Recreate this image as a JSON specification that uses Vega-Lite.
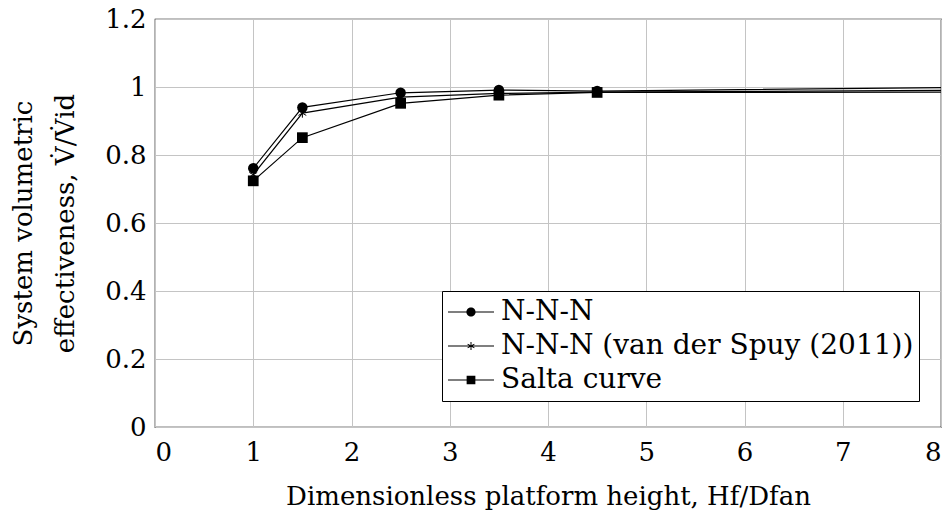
{
  "$schema": "https://vega.github.io/schema/vega-lite/v6.json",
  "width": 786,
  "height": 408,
  "autosize": {"type": "none"},
  "padding": {"left": 155, "top": 19, "right": 9, "bottom": 89},
  "background": "white",
  "config": {
    "font": "DejaVu Serif",
    "view": {"stroke": "black", "strokeWidth": 1.2},
    "axis": {
      "labelFont": "DejaVu Serif",
      "labelFontSize": 26,
      "labelColor": "black",
      "titleFont": "DejaVu Serif",
      "titleFontSize": 26,
      "titleFontWeight": "normal",
      "titleColor": "black",
      "domain": false,
      "ticks": false,
      "gridColor": "#c4c4c4",
      "gridWidth": 1,
      "gridOpacity": 1
    }
  },
  "data": {
    "values": [
      {"series": "N-N-N", "h": 1, "v": 0.761},
      {"series": "N-N-N", "h": 1.5, "v": 0.94},
      {"series": "N-N-N", "h": 2.5, "v": 0.983},
      {"series": "N-N-N", "h": 3.5, "v": 0.991},
      {"series": "N-N-N", "h": 4.5, "v": 0.988},
      {"series": "N-N-N", "h": 8, "v": 0.998},
      {"series": "N-N-N (van der Spuy (2011))", "h": 1, "v": 0.742},
      {"series": "N-N-N (van der Spuy (2011))", "h": 1.5, "v": 0.923},
      {"series": "N-N-N (van der Spuy (2011))", "h": 2.5, "v": 0.97},
      {"series": "N-N-N (van der Spuy (2011))", "h": 3.5, "v": 0.981},
      {"series": "N-N-N (van der Spuy (2011))", "h": 4.5, "v": 0.985},
      {"series": "N-N-N (van der Spuy (2011))", "h": 8, "v": 0.99},
      {"series": "Salta curve", "h": 1, "v": 0.724},
      {"series": "Salta curve", "h": 1.5, "v": 0.851},
      {"series": "Salta curve", "h": 2.5, "v": 0.952},
      {"series": "Salta curve", "h": 3.5, "v": 0.976},
      {"series": "Salta curve", "h": 4.5, "v": 0.984},
      {"series": "Salta curve", "h": 8, "v": 0.985}
    ]
  },
  "encoding": {
    "x": {
      "field": "h",
      "type": "quantitative",
      "scale": {"domain": [0, 8], "nice": false, "zero": false},
      "axis": {
        "values": [0, 1, 2, 3, 4, 5, 6, 7, 8],
        "format": "d",
        "labelPadding": 12,
        "title": "Dimensionless platform height, Hf/Dfan",
        "titlePadding": 18
      }
    },
    "y": {
      "field": "v",
      "type": "quantitative",
      "scale": {"domain": [0, 1.2], "nice": false},
      "axis": {
        "values": [0, 0.2, 0.4, 0.6, 0.8, 1, 1.2],
        "format": "~g",
        "labelPadding": 9,
        "title": ["System volumetric", "effectiveness, V̇/V̇id"],
        "titleLineHeight": 42,
        "titlePadding": 26
      }
    }
  },
  "layer": [
    {
      "mark": {"type": "line", "color": "black", "strokeWidth": 1.2},
      "encoding": {"detail": {"field": "series"}}
    },
    {
      "transform": [{"filter": "datum.series === 'N-N-N' && datum.h <= 4.5"}],
      "mark": {"type": "point", "shape": "circle", "filled": true, "color": "black", "size": 110, "opacity": 1}
    },
    {
      "transform": [{"filter": "datum.series === 'N-N-N (van der Spuy (2011))' && datum.h <= 4.5"}],
      "mark": {
        "type": "point",
        "shape": "M0,-1V1M-0.866,-0.5L0.866,0.5M-0.866,0.5L0.866,-0.5",
        "filled": false,
        "color": "black",
        "strokeWidth": 1,
        "size": 81,
        "opacity": 1
      }
    },
    {
      "transform": [{"filter": "datum.series === 'Salta curve' && datum.h <= 4.5"}],
      "mark": {"type": "point", "shape": "square", "filled": true, "color": "black", "size": 115, "opacity": 1}
    },
    {
      "transform": [{"filter": "datum.h > 100"}],
      "mark": {"type": "point", "filled": true, "color": "black", "opacity": 1},
      "encoding": {
        "shape": {
          "field": "series",
          "type": "nominal",
          "scale": {
            "domain": ["N-N-N", "N-N-N (van der Spuy (2011))", "Salta curve"],
            "range": [
              "M-1,-0.025H1V0.025H-1ZM0.2,0A0.2,0.2,0,1,1,-0.2,0A0.2,0.2,0,1,1,0.2,0Z",
              "M-1,-0.022H1V0.022H-1ZM-0.022,-0.17H0.022V0.17H-0.022ZM-0.1572,-0.0677L-0.1372,-0.1023L0.1572,0.0677L0.1372,0.1023ZM-0.1372,0.1023L-0.1572,0.0677L0.1372,-0.1023L0.1572,-0.0677Z",
              "M-1,-0.025H1V0.025H-1ZM-0.19,-0.19H0.19V0.19H-0.19Z"
            ]
          },
          "legend": {
            "title": null,
            "orient": "none",
            "legendX": 287,
            "legendY": 272,
            "direction": "vertical",
            "strokeColor": "black",
            "fillColor": "white",
            "padding": 5,
            "cornerRadius": 0,
            "symbolSize": 2116,
            "symbolOpacity": 1,
            "symbolFillColor": "black",
            "clipHeight": 32,
            "rowPadding": 2,
            "labelOffset": 6,
            "labelFont": "DejaVu Serif",
            "labelFontSize": 28,
            "labelColor": "black",
            "labelLimit": 600,
            "encode": {
              "symbols": {
                "update": {
                  "fill": {"value": "black"},
                  "fillOpacity": {"value": 1}
                }
              }
            }
          }
        }
      }
    }
  ]
}
